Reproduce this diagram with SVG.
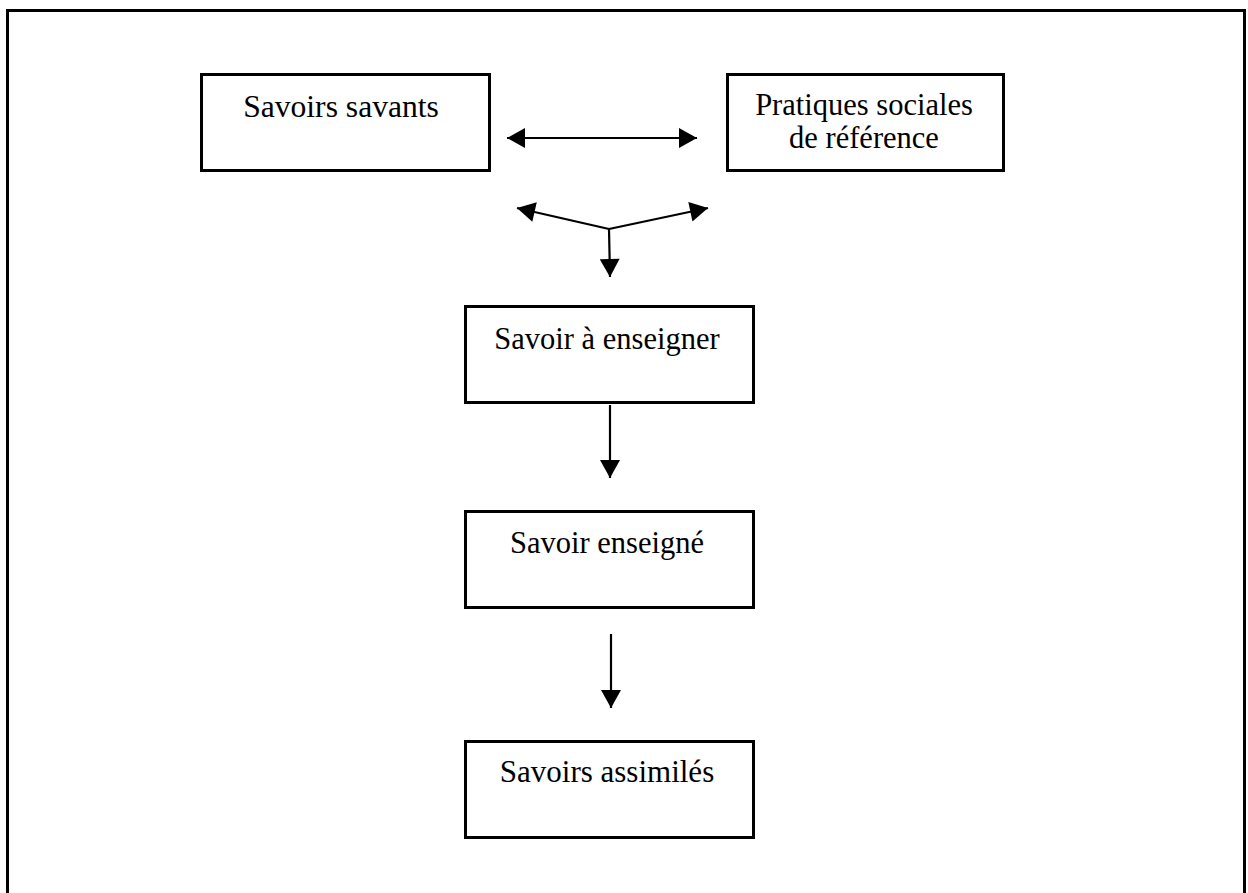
<svg xmlns="http://www.w3.org/2000/svg" width="1248" height="893" viewBox="0 0 1248 893">
<style>
.box{fill:#fff;stroke:#000;stroke-width:3}
.lbl{font-family:"Liberation Serif","Times New Roman",serif;font-size:30.5px;fill:#000;text-anchor:middle}
.con{fill:none;stroke:#000;stroke-width:2.2}
</style>
<defs>
<marker id="ah" markerUnits="userSpaceOnUse" markerWidth="20" markerHeight="20" viewBox="0 0 18 20" refX="18" refY="10" orient="auto-start-reverse">
<path d="M0,0 L18,10 L0,20 Z" fill="#000"/>
</marker>
</defs>
<rect width="1248" height="893" fill="#fff"/>
<path d="M7.5,893 V10.5 H1244.5 V893" fill="none" stroke="#000" stroke-width="3"/>
<g id="n1"><rect class="box" x="201.5" y="74.5" width="288" height="96"/><text class="lbl" x="341" y="117" style="font-size:31.6px">Savoirs savants</text></g>
<g id="n2"><rect class="box" x="727.5" y="74.5" width="276" height="96"/><text class="lbl" x="864" y="115">Pratiques sociales</text><text class="lbl" x="864" y="148">de référence</text></g>
<g id="n3"><rect class="box" x="465.5" y="306.5" width="288" height="96"/><text class="lbl" x="607" y="349">Savoir à enseigner</text></g>
<g id="n4"><rect class="box" x="465.5" y="511.5" width="288" height="96"/><text class="lbl" x="607" y="553">Savoir enseigné</text></g>
<g id="n5"><rect class="box" x="465.5" y="741.5" width="288" height="96"/><text class="lbl" x="607" y="782" style="font-size:31px">Savoirs assimilés</text></g>
<g id="connectors">
<line class="con" x1="507" y1="138" x2="697" y2="138" marker-start="url(#ah)" marker-end="url(#ah)"/>
<line class="con" x1="609" y1="229" x2="517" y2="208" marker-end="url(#ah)"/>
<line class="con" x1="609" y1="229" x2="708" y2="208" marker-end="url(#ah)"/>
<line class="con" x1="609" y1="229" x2="610" y2="277" marker-end="url(#ah)"/>
<line class="con" x1="610" y1="405" x2="610" y2="478" marker-end="url(#ah)"/>
<line class="con" x1="611" y1="634" x2="611" y2="708" marker-end="url(#ah)"/>
</g>
</svg>
